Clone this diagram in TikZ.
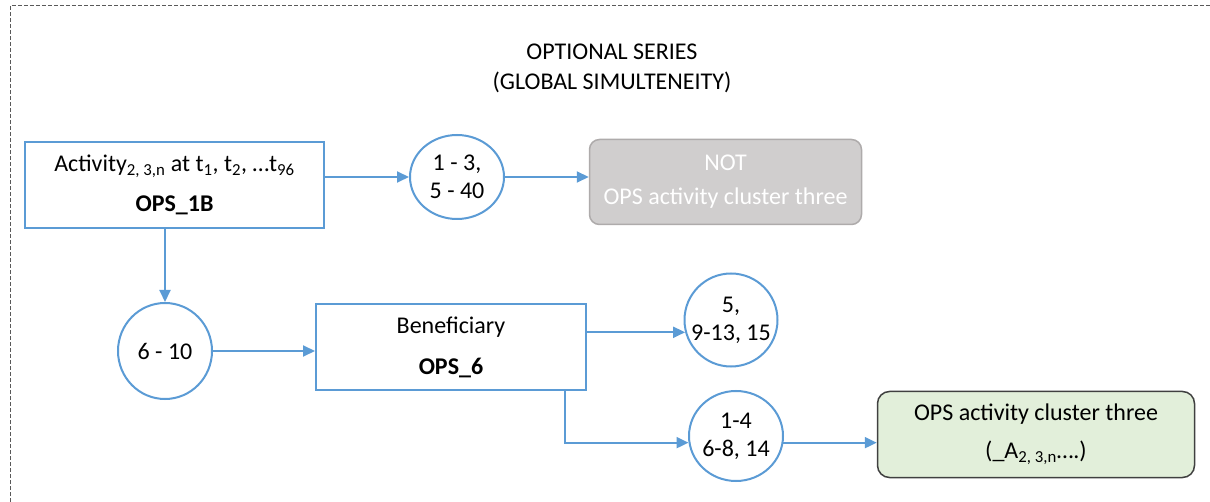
\documentclass[tikz,border=0pt]{standalone}
\usepackage{fontspec}
\setmainfont{Carlito}
\usetikzlibrary{arrows.meta,shapes.geometric}
\definecolor{lineblue}{HTML}{5B9BD5}
\definecolor{greyfill}{HTML}{D0CECE}
\definecolor{greyline}{HTML}{AEABAB}
\definecolor{greenfill}{HTML}{E2EFDA}
\definecolor{darkline}{HTML}{404040}
\definecolor{framecol}{HTML}{595959}
\tikzset{
  bluebox/.style={draw=lineblue, line width=2pt, fill=white, rectangle, align=center, inner sep=0pt},
  bluecirc/.style={draw=lineblue, line width=2pt, fill=white, ellipse, inner sep=0pt},
  greybox/.style={draw=greyline, line width=1.5pt, fill=greyfill, rectangle, rounded corners=10pt, align=center, inner sep=0pt, text=white},
  greenbox/.style={draw=darkline, line width=1.5pt, fill=greenfill, rectangle, rounded corners=12pt, align=center, inner sep=0pt},
  conn/.style={draw=lineblue, line width=2pt},
  arr/.style={conn, -{Triangle[length=12pt,width=11pt]}},
  frameline/.style={draw=framecol, line width=1pt, dash pattern=on 4pt off 2pt},
  circtext/.style={align=center, inner sep=0pt}
}
\begin{document}
\begin{tikzpicture}[x=1pt,y=-1pt, font=\fontsize{24}{28}\selectfont]
\useasboundingbox (0,0) rectangle (1210,502);
\draw[frameline] (10.5,502) -- (10.5,5.5) -- (1210,5.5);

\node[align=center, inner sep=0pt] (title) at (612,68) {OPTIONAL SERIES\\[2pt](GLOBAL SIMULTENEITY)};

\node[bluebox, minimum width=299pt, minimum height=86pt] (b1) at (174.5,185)
  {Activity\textsubscript{2, 3,n} at t\textsubscript{1}, t\textsubscript{2}, …t\textsubscript{96}\\[12pt]\textbf{OPS\_1B}};
\node[bluecirc, minimum width=94pt, minimum height=84pt,
  label={[circtext]center:{1 - 3,\\5 - 40}}] (c1) at (457,177) {};
\node[greybox, minimum width=272pt, minimum height=85pt] (g1) at (725.5,182)
  {NOT\\[6pt]OPS activity cluster three};

\node[bluecirc, minimum width=94pt, minimum height=96pt,
  label={[circtext]center:{6 - 10}}] (c2) at (165,351) {};
\node[bluebox, minimum width=270pt, minimum height=86pt] (b2) at (451,347)
  {Beneficiary\\[13pt]\textbf{OPS\_6}};
\node[bluecirc, minimum width=93pt, minimum height=93pt,
  label={[circtext]center:{5,\\9-13, 15}}] (c3) at (731,320) {};
\node[bluecirc, minimum width=94pt, minimum height=90pt,
  label={[circtext]center:{1-4\\6-8, 14}}] (c4) at (736,436) {};
\node[greenbox, minimum width=317pt, minimum height=86pt] (g2) at (1036,434.5)
  {OPS activity cluster three\\[10pt](\_A\textsubscript{2, 3,n}….)};

\draw[arr] (c1.west -| b1.east) -- (c1.west);
\draw[arr] (c1.east) -- (c1.east -| g1.west);
\draw[arr] (b1.south -| c2.north) -- (c2.north);
\draw[arr] (c2.east) -- (c2.east -| b2.west);
\draw[arr] (c3.195 -| b2.east) -- (c3.195);
\draw[arr] ([xshift=-22pt]b2.south east) -- ([xshift=-22pt]b2.south east |- c4.188) -- (c4.188);
\draw[arr] (c4.352) -- (c4.352 -| g2.west);
\end{tikzpicture}
\end{document}
